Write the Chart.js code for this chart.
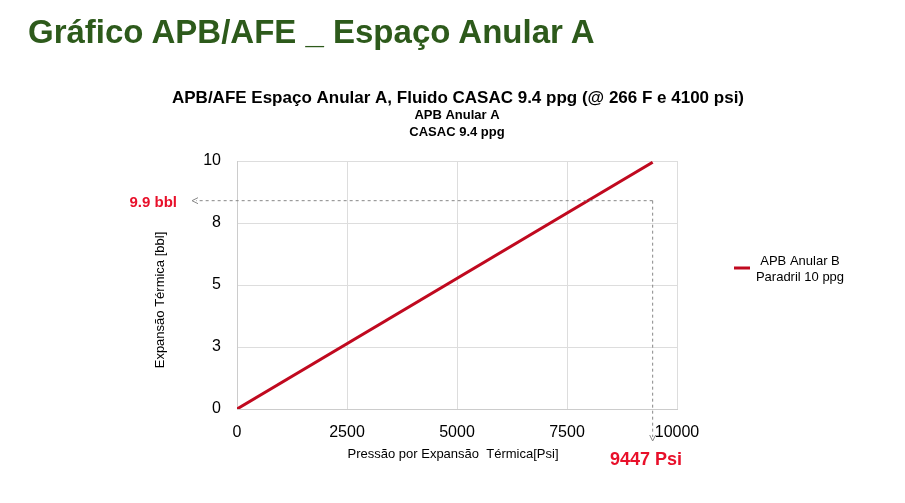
<!DOCTYPE html>
<html><head><meta charset="utf-8">
<script src="https://cdn.jsdelivr.net/npm/chart.js"></script>
<style>body{margin:0;background:#fff;font-family:"Liberation Sans Narrow","Liberation Sans",Arial,sans-serif}
#h{position:absolute;left:28px;top:13px;font-size:33px;font-weight:bold;color:#2d5a1b}
#w{position:absolute;left:0;top:0;width:905px;height:503px}</style></head>
<body><div id="w"><canvas id="c"></canvas></div><div id="h">Gráfico APB/AFE _ Espaço Anular A</div>
<script>
const pressures=[0,9447];
const expansion=[0,9.95];
const markerX=9447, markerY=8.4;
const seriesLabel=["APB Anular B","Paradril 10 ppg"];
const F='"Liberation Sans Narrow", "Liberation Sans", Arial, sans-serif';
const deco={id:'deco',afterDraw(ch){
 const c=ch.ctx,x=ch.scales.x,y=ch.scales.y;
 const px=x.getPixelForValue(markerX),py=y.getPixelForValue(markerY);
 c.save();c.strokeStyle='#888';c.fillStyle='#888';c.lineWidth=1;c.setLineDash([3,3]);
 c.beginPath();c.moveTo(px,py);c.lineTo(196,py);c.moveTo(px,py);c.lineTo(px,437);c.stroke();
 c.setLineDash([]);
 c.beginPath();c.moveTo(192,py);c.lineTo(198,py-3);c.moveTo(192,py);c.lineTo(198,py+3);
 c.moveTo(px,441);c.lineTo(px-3,435);c.moveTo(px,441);c.lineTo(px+3,435);c.stroke();
 c.fillStyle='#e8102a';c.font='bold 15px '+F;c.textAlign='right';c.textBaseline='middle';
 c.fillText('9.9 bbl',177,203);
 c.font='bold 18px '+F;c.textAlign='center';c.fillText('9447 Psi',646,460);
 c.fillStyle='#000';c.font='bold 17px '+F;c.fillText('APB/AFE Espaço Anular A, Fluido CASAC 9.4 ppg (@ 266 F e 4100 psi)',458,98);
 c.font='bold 13px '+F;c.fillText('APB Anular A',457,115);c.fillText('CASAC 9.4 ppg',457,132);
 c.font='13px '+F;c.fillText('Pressão por Expansão  Térmica[Psi]',453,454);
 c.save();c.translate(160,300);c.rotate(-Math.PI/2);c.fillText('Expansão Térmica [bbl]',0,0);c.restore();
 c.strokeStyle='#c0091f';c.lineWidth=3;c.beginPath();c.moveTo(734,268);c.lineTo(750,268);c.stroke();
 c.textAlign='center';c.fillText(seriesLabel[0],800,261);c.fillText(seriesLabel[1],800,277);
 c.restore();}};
new Chart(document.getElementById('c'),{type:'scatter',
 data:{datasets:[{data:pressures.map((p,i)=>({x:p,y:expansion[i]})),showLine:true,borderColor:'#c0091f',borderWidth:3,pointRadius:0}]},
 options:{responsive:true,maintainAspectRatio:false,animation:false,
  layout:{padding:{top:161,left:180,right:228,bottom:49}},
  plugins:{legend:{display:false},tooltip:{enabled:false}},
  scales:{
   x:{min:0,max:10000,ticks:{stepSize:2500,color:'#000',font:{size:16,family:F},padding:14,callback:v=>String(v)},
      grid:{color:'#ddd',borderDash:[2,2],drawTicks:false},border:{color:'#ccc'},afterFit(s){s.height=45}},
   y:{min:0,max:10,ticks:{stepSize:2.5,color:'#000',font:{size:16,family:F},padding:16,callback:v=>Math.round(v)},
      grid:{color:'#ddd',borderDash:[2,2],drawTicks:false},border:{color:'#ccc'},afterFit(s){s.width=57}}}},
 plugins:[deco]});
</script></body></html>
